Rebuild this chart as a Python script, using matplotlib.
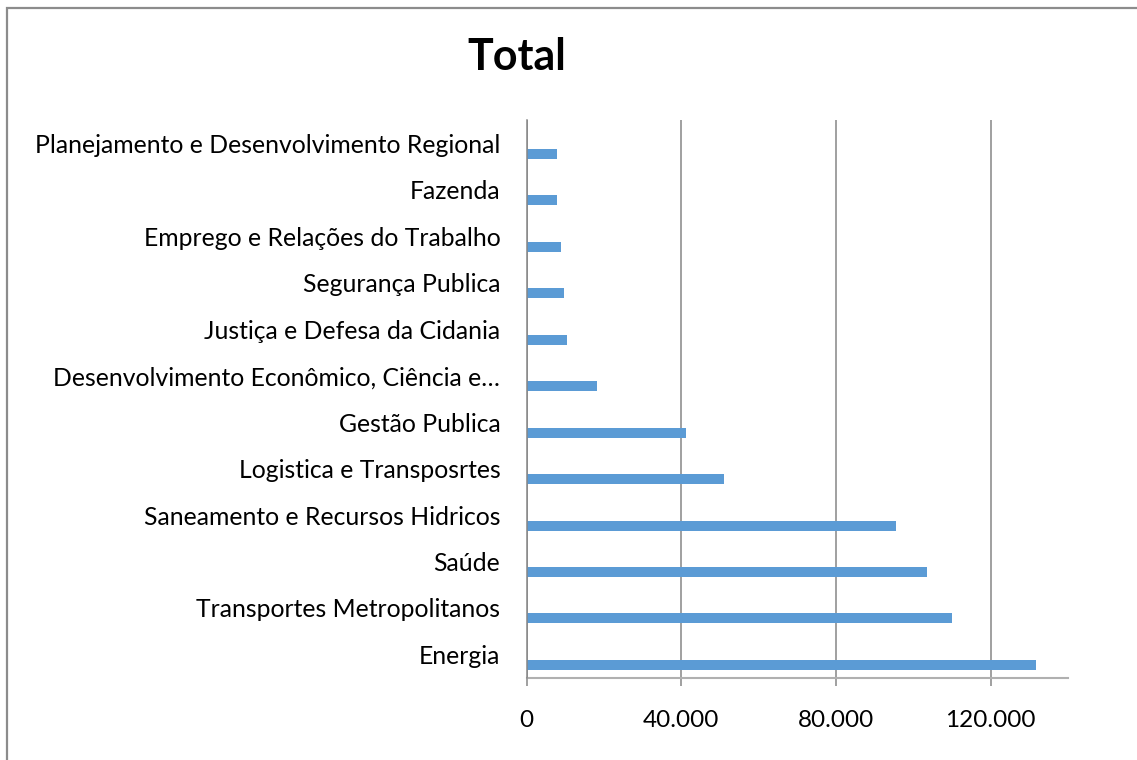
import matplotlib
matplotlib.use("Agg")
import matplotlib.pyplot as plt
from matplotlib.patches import Rectangle
from matplotlib.ticker import FixedLocator, FuncFormatter

categories = [
    "Energia",
    "Transportes Metropolitanos",
    "Saúde",
    "Saneamento e Recursos Hidricos",
    "Logistica e Transposrtes",
    "Gestão Publica",
    "Desenvolvimento Econômico, Ciência e…",
    "Justiça e Defesa da Cidania",
    "Segurança Publica",
    "Emprego e Relações do Trabalho",
    "Fazenda",
    "Planejamento e Desenvolvimento Regional",
]
values = [131600, 109900, 103500, 95400, 50900, 41200, 18300, 10500, 9700, 8950, 7900, 7900]
xticks = [0, 40000, 80000, 120000]
xtick_labels = ["0", "40.000", "80.000", "120.000"]
title = "Total"

plt.rcParams['font.family'] = ['Lato', 'DejaVu Sans']

W, H = 1137, 760
fig = plt.figure(figsize=(W / 100, H / 100), dpi=100)
ax = fig.add_axes([526.7 / W, 1 - 677.7 / H, (1068 - 526.7) / W, (677.7 - 120) / H])

bar_color = "#5B9BD5"
grid_color = "#868686"
n = len(categories)
ypos = [i - 0.226 for i in range(n)]
ax.barh(ypos, values, height=0.215, color=bar_color, edgecolor="none", zorder=3)

ax.set_xlim(0, 140000)
ax.set_ylim(-0.5, n - 0.5)

ax.xaxis.set_major_locator(FixedLocator(xticks))
ax.xaxis.set_major_formatter(FuncFormatter(lambda v, p: xtick_labels[xticks.index(v)] if v in xticks else ""))
ax.set_yticks(range(n))
ax.set_yticklabels(categories)

ax.grid(axis="x", color=grid_color, linewidth=1.1, zorder=1)
ax.grid(axis="y", visible=False)

for s in ["top", "right"]:
    ax.spines[s].set_visible(False)
ax.spines["left"].set_color(grid_color)
ax.spines["left"].set_linewidth(1.1)
ax.spines["left"].set_zorder(4)
ax.spines["bottom"].set_color("#b0b0b0")
ax.spines["bottom"].set_linewidth(1.5)

ax.tick_params(axis="x", direction="out", length=6, width=1.1, color=grid_color,
               labelsize=17.5, pad=17, labelcolor="black")
ax.tick_params(axis="y", length=0, labelsize=17.8, pad=19, labelcolor="black")

fig.text(516.5 / W, 1 - 70 / H, title, ha="center", va="baseline",
         fontsize=31, fontweight="bold")

fig.patches.append(Rectangle((7 / W, -0.05), 1.1, 1 - 8.3 / H + 0.05,
                             transform=fig.transFigure, fill=False,
                             edgecolor="#8c8c8c", linewidth=1.6))

fig.savefig("out.png", dpi=100)
